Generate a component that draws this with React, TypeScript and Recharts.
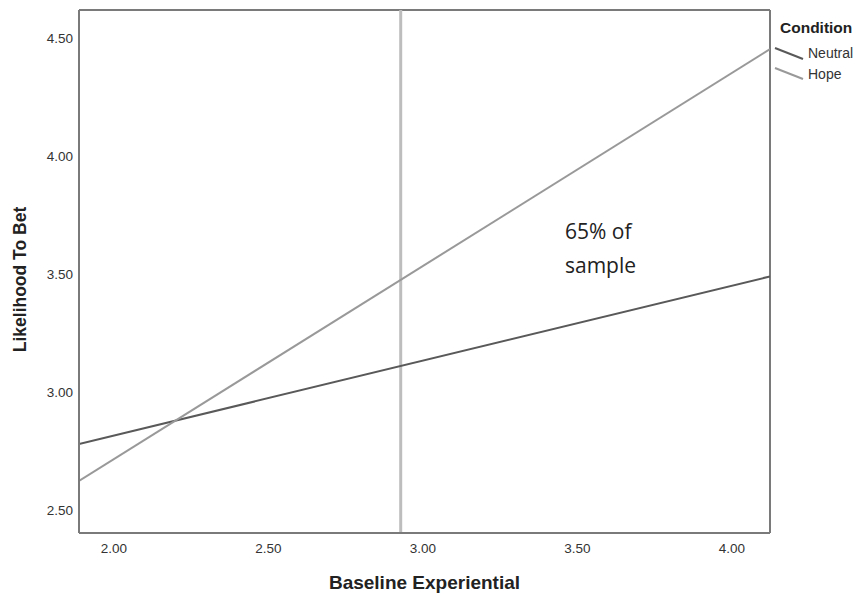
import { LineChart, Line, XAxis, YAxis, ReferenceLine, Legend } from "recharts";

// axis ranges
const xDomain = [1.887, 4.123];
const yDomain = [2.403, 4.619];
const xTicks = [2.0, 2.5, 3.0, 3.5, 4.0];
const yTicks = [2.5, 3.0, 3.5, 4.0, 4.5];

const conditions = ["Neutral", "Hope"];

// fit line end points per condition
const neutralLine = [
  { x: 1.887, y: 2.78 },
  { x: 4.123, y: 3.49 },
];
const hopeLine = [
  { x: 1.887, y: 2.624 },
  { x: 4.123, y: 4.453 },
];

const splitX = 2.928;

const FRAME = "#7a7a7a";
const tickStyle = { fontSize: 13.5, fill: "#333", fontFamily: "Liberation Sans, Arial, sans-serif" };

function ConditionLegend({ payload }: any) {
  const items = [...(payload || [])].sort(
    (a: any, b: any) => conditions.indexOf(a.value) - conditions.indexOf(b.value)
  );
  return (
    <svg width={90} height={70} style={{ overflow: "visible" }}>
      <text x={10} y={15} fontSize={15.5} fontWeight="bold" fill="#222" fontFamily="Liberation Sans, Arial, sans-serif">
        Condition
      </text>
      {items.map((p: any, i: number) => (
        <g key={p.value}>
          <line x1={5} y1={30 + i * 20} x2={33} y2={41 + i * 20} stroke={p.color} strokeWidth={2} />
          <text x={38} y={40 + i * 21} fontSize={14} fill="#333" fontFamily="Liberation Sans, Arial, sans-serif">
            {p.value}
          </text>
        </g>
      ))}
    </svg>
  );
}

export default function App() {
  return (
    <div style={{ position: "absolute", left: 0, top: 0, width: 861, height: 594, background: "#fff" }}>
      <LineChart width={861} height={594} margin={{ top: 10, right: 91, left: 0, bottom: 0 }}>
        <XAxis
          type="number"
          dataKey="x"
          domain={xDomain}
          ticks={xTicks}
          allowDataOverflow
          tickFormatter={(v: number) => v.toFixed(2)}
          tick={tickStyle}
          tickLine={false}
          tickSize={0}
          tickMargin={10}
          height={61}
          axisLine={{ stroke: FRAME, strokeWidth: 2 }}
          label={(props: any) => {
            const vb = props.viewBox;
            return (
              <text
                x={vb.x + vb.width / 2}
                y={vb.y + 56}
                textAnchor="middle"
                fontSize={19}
                fontWeight="bold"
                fill="#222"
                fontFamily="Liberation Sans, Arial, sans-serif"
              >
                Baseline Experiential
              </text>
            );
          }}
        />
        <YAxis
          type="number"
          dataKey="y"
          domain={yDomain}
          ticks={yTicks}
          allowDataOverflow
          tickFormatter={(v: number) => v.toFixed(2)}
          tick={tickStyle}
          tickLine={false}
          tickSize={0}
          tickMargin={6}
          width={79}
          axisLine={{ stroke: FRAME, strokeWidth: 2 }}
          label={(props: any) => {
            const vb = props.viewBox;
            const cx = vb.x + 26;
            const cy = vb.y + vb.height / 2 + 8;
            return (
              <text
                x={cx}
                y={cy}
                transform={`rotate(-90 ${cx} ${cy})`}
                textAnchor="middle"
                fontSize={17.5}
                fontWeight="bold"
                fill="#222"
                fontFamily="Liberation Sans, Arial, sans-serif"
              >
                Likelihood To Bet
              </text>
            );
          }}
        />
        <ReferenceLine x={xDomain[1]} stroke={FRAME} strokeWidth={2} />
        <ReferenceLine y={yDomain[1]} stroke={FRAME} strokeWidth={2} />
        <ReferenceLine x={splitX} stroke="#bdbdbd" strokeWidth={3} />
        <Line
          data={neutralLine}
          dataKey="y"
          name="Neutral"
          stroke="#595959"
          strokeWidth={2}
          dot={false}
          activeDot={false}
          isAnimationActive={false}
        />
        <Line
          data={hopeLine}
          dataKey="y"
          name="Hope"
          stroke="#999999"
          strokeWidth={2}
          dot={false}
          activeDot={false}
          isAnimationActive={false}
        />
        <Legend
          content={<ConditionLegend />}
          wrapperStyle={{ position: "absolute", left: 770, top: 18, width: 0, height: 0, overflow: "visible" }}
        />
      </LineChart>
      <div
        style={{
          position: "absolute",
          left: 565,
          top: 214,
          fontFamily: "Open Sans, sans-serif",
          fontSize: 21,
          lineHeight: "34px",
          color: "#222",
        }}
      >
        65% of
        <br />
        sample
      </div>
    </div>
  );
}
